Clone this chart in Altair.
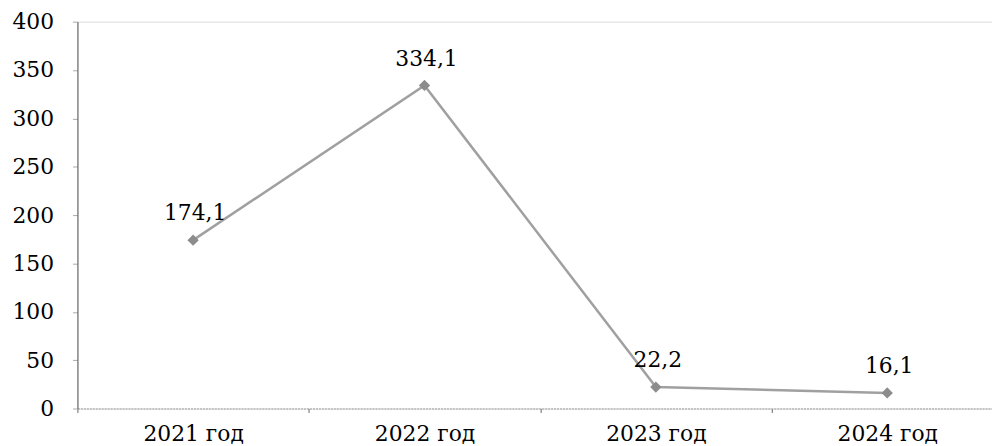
import altair as alt
import pandas as pd

years = ["2021 год", "2022 год", "2023 год", "2024 год"]
values = [174.1, 334.1, 22.2, 16.1]
labels = ["174,1", "334,1", "22,2", "16,1"]

df = pd.DataFrame({"year": years, "value": values, "label": labels})

FONT = "DejaVu Serif"

x = alt.X("year:N", sort=years, title=None,
          scale=alt.Scale(paddingInner=0, paddingOuter=0, range=[0, 933]),
          axis=alt.Axis(labelAngle=0, labelFont=FONT, labelFontSize=22,
                        labelColor="#000",
                        domainColor="#999", domainDash=[2, 1], ticks=True, tickBand="extent",
                        tickColor="#666", tickSize=4, labelPadding=11, grid=False))
y = alt.Y("value:Q", title=None,
          scale=alt.Scale(domain=[0, 400], nice=False),
          axis=alt.Axis(values=list(range(0, 401, 50)), labelFont=FONT, labelFontSize=22,
                        labelColor="#000", domainColor="#555", tickColor="#aaa", tickSize=5,
                        labelPadding=19, grid=False))

base = alt.Chart(df)
line = base.mark_line(color="#a0a0a0", strokeWidth=2.5).encode(x=x, y=y)
pts = base.mark_point(shape="diamond", filled=True, color="#8c8c8c", size=130, opacity=1).encode(x=x, y=y)
txt = base.mark_text(font=FONT, fontSize=22, color="#000", dy=-27, dx=2).encode(
    x=x, y=y, text="label:N")

chart = (line + pts + txt).properties(
    width=922, height=390,
    autosize=alt.AutoSizeParams(type="none"),
    padding={"left": 70, "top": 12, "right": 0, "bottom": 36},
).configure_view(stroke=None).configure(background="white")

chart.save("out.html", embed_options={"renderer": "svg", "actions": False})
